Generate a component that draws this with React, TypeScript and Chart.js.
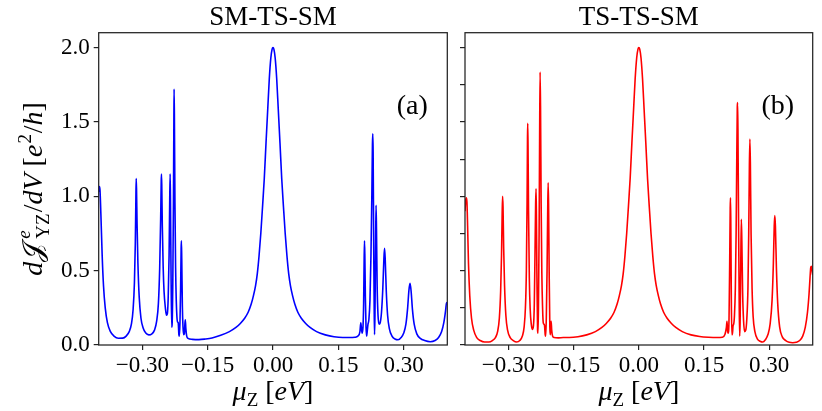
import { useEffect, useRef } from 'react';
import { Chart, registerables } from 'chart.js';

Chart.register(...registerables);

// tick positions
const xTicks = [-0.3, -0.15, 0, 0.15, 0.3];
const yTicksLeft = [0, 0.5, 1, 1.5, 2];
const yTicksRight = [0, 0.25, 0.5, 0.75, 1, 1.25, 1.5, 1.75, 2];

// (mu_Z, dJ/dV), panel (a)
const smtsmCurve: [number, number][] = [
  [-0.4, 1.03], [-0.3985, 1.065], [-0.397, 1.04], [-0.395, 0.88], [-0.392, 0.6],
  [-0.389, 0.4], [-0.385, 0.25], [-0.38, 0.15], [-0.373, 0.09], [-0.365, 0.06],
  [-0.355, 0.045], [-0.345, 0.046], [-0.337, 0.06], [-0.33, 0.09], [-0.325, 0.14],
  [-0.321, 0.24], [-0.318, 0.42], [-0.316, 0.68], [-0.3148, 0.95], [-0.314, 1.12],
  [-0.3132, 1.05], [-0.312, 0.82], [-0.31, 0.55], [-0.307, 0.32], [-0.303, 0.18],
  [-0.298, 0.115], [-0.292, 0.08], [-0.285, 0.068], [-0.278, 0.075], [-0.272, 0.1],
  [-0.267, 0.16], [-0.263, 0.28], [-0.26, 0.52], [-0.2578, 0.85], [-0.2565, 1.1],
  [-0.256, 1.15], [-0.2553, 1.08], [-0.254, 0.8], [-0.252, 0.52], [-0.25, 0.36],
  [-0.247, 0.25], [-0.2445, 0.2], [-0.2425, 0.21], [-0.2405, 0.32], [-0.2385, 0.6],
  [-0.237, 0.98], [-0.236, 1.15], [-0.2352, 0.95], [-0.234, 0.5], [-0.2325, 0.12],
  [-0.2315, 0.14], [-0.23, 0.4], [-0.2285, 0.95], [-0.2275, 1.5], [-0.227, 1.72],
  [-0.2263, 1.55], [-0.225, 0.95], [-0.2235, 0.52], [-0.222, 0.3], [-0.2205, 0.19],
  [-0.219, 0.155], [-0.2175, 0.15], [-0.216, 0.07], [-0.2148, 0.06], [-0.2135, 0.15],
  [-0.212, 0.38], [-0.2108, 0.65], [-0.2102, 0.7], [-0.2094, 0.58], [-0.208, 0.26],
  [-0.2065, 0.12], [-0.205, 0.07], [-0.2035, 0.075], [-0.2022, 0.14], [-0.2012, 0.17],
  [-0.2, 0.11], [-0.198, 0.06], [-0.195, 0.045], [-0.185, 0.038], [-0.17, 0.036],
  [-0.155, 0.04], [-0.14, 0.047], [-0.12, 0.065], [-0.1, 0.09], [-0.085, 0.118],
  [-0.075, 0.145], [-0.065, 0.18], [-0.057, 0.22], [-0.05, 0.275], [-0.045, 0.33],
  [-0.04, 0.4], [-0.036, 0.48], [-0.032, 0.6], [-0.028, 0.75], [-0.024, 0.93],
  [-0.02, 1.12], [-0.016, 1.36], [-0.012, 1.59], [-0.0085, 1.79], [-0.005, 1.93],
  [-0.002, 1.99], [0, 2.0], [0.002, 1.99], [0.005, 1.93], [0.0085, 1.79],
  [0.012, 1.59], [0.016, 1.36], [0.02, 1.12], [0.024, 0.93], [0.028, 0.75],
  [0.032, 0.6], [0.036, 0.48], [0.04, 0.4], [0.045, 0.33], [0.05, 0.275],
  [0.057, 0.22], [0.065, 0.18], [0.075, 0.145], [0.085, 0.118], [0.1, 0.09],
  [0.12, 0.068], [0.14, 0.055], [0.16, 0.05], [0.175, 0.05], [0.188, 0.052],
  [0.195, 0.06], [0.1995, 0.09], [0.2015, 0.15], [0.203, 0.11], [0.2045, 0.08],
  [0.2065, 0.12], [0.208, 0.28], [0.2092, 0.58], [0.21, 0.7], [0.2108, 0.6],
  [0.212, 0.32], [0.2135, 0.12], [0.215, 0.06], [0.2165, 0.1], [0.218, 0.14],
  [0.22, 0.17], [0.2225, 0.3], [0.2248, 0.6], [0.2268, 1.0], [0.2282, 1.35],
  [0.229, 1.42], [0.2298, 1.3], [0.231, 0.7], [0.2322, 0.25], [0.233, 0.07],
  [0.234, 0.2], [0.2355, 0.7], [0.2365, 0.94], [0.2375, 0.78], [0.239, 0.4],
  [0.241, 0.2], [0.2435, 0.14], [0.246, 0.15], [0.249, 0.22], [0.252, 0.38],
  [0.2545, 0.58], [0.256, 0.65], [0.2575, 0.58], [0.26, 0.36], [0.263, 0.2],
  [0.267, 0.11], [0.273, 0.06], [0.28, 0.04], [0.287, 0.035], [0.294, 0.05],
  [0.3, 0.08], [0.305, 0.14], [0.309, 0.25], [0.312, 0.37], [0.3145, 0.415],
  [0.317, 0.36], [0.32, 0.24], [0.324, 0.14], [0.33, 0.075], [0.338, 0.045],
  [0.348, 0.03], [0.361, 0.022], [0.372, 0.03], [0.38, 0.05], [0.387, 0.09],
  [0.392, 0.15], [0.396, 0.23], [0.398, 0.28], [0.3995, 0.285], [0.4, 0.27],
];

// panel (b)
const tstsmCurve: [number, number][] = [
  [-0.4, 0.9], [-0.3985, 0.97], [-0.397, 0.99], [-0.3955, 0.96], [-0.394, 0.8],
  [-0.392, 0.55], [-0.389, 0.33], [-0.385, 0.18], [-0.38, 0.1], [-0.373, 0.05],
  [-0.365, 0.03], [-0.355, 0.02], [-0.345, 0.02], [-0.337, 0.03], [-0.33, 0.05],
  [-0.325, 0.09], [-0.321, 0.18], [-0.318, 0.36], [-0.316, 0.6], [-0.3145, 0.88],
  [-0.3135, 1.0], [-0.3125, 0.93], [-0.311, 0.65], [-0.309, 0.4], [-0.306, 0.2],
  [-0.302, 0.1], [-0.296, 0.05], [-0.289, 0.03], [-0.281, 0.02], [-0.274, 0.03],
  [-0.268, 0.06], [-0.264, 0.12], [-0.261, 0.25], [-0.2588, 0.5], [-0.2572, 0.95],
  [-0.2562, 1.4], [-0.2557, 1.49], [-0.255, 1.35], [-0.2538, 0.9], [-0.252, 0.45],
  [-0.25, 0.24], [-0.2475, 0.14], [-0.245, 0.105], [-0.2425, 0.13], [-0.2405, 0.28],
  [-0.239, 0.6], [-0.2375, 0.95], [-0.2365, 1.05], [-0.2357, 0.88], [-0.2345, 0.45],
  [-0.233, 0.1], [-0.232, 0.08], [-0.231, 0.25], [-0.2295, 0.75], [-0.2283, 1.4],
  [-0.2272, 1.835], [-0.2262, 1.6], [-0.2248, 0.95], [-0.2232, 0.48], [-0.2215, 0.25],
  [-0.22, 0.15], [-0.2185, 0.14], [-0.217, 0.13], [-0.2155, 0.07], [-0.2142, 0.06],
  [-0.2128, 0.2], [-0.2112, 0.5], [-0.2098, 0.88], [-0.2087, 1.09], [-0.2077, 0.95],
  [-0.2062, 0.45], [-0.2048, 0.12], [-0.2038, 0.07], [-0.2028, 0.12], [-0.2018, 0.16],
  [-0.2005, 0.1], [-0.1985, 0.06], [-0.195, 0.05], [-0.185, 0.048], [-0.174, 0.05],
  [-0.16, 0.05], [-0.14, 0.055], [-0.12, 0.068], [-0.1, 0.09], [-0.085, 0.118],
  [-0.075, 0.145], [-0.065, 0.18], [-0.057, 0.22], [-0.05, 0.275], [-0.045, 0.33],
  [-0.04, 0.4], [-0.036, 0.48], [-0.032, 0.6], [-0.028, 0.75], [-0.024, 0.93],
  [-0.02, 1.12], [-0.016, 1.36], [-0.012, 1.59], [-0.0085, 1.79], [-0.005, 1.93],
  [-0.002, 1.99], [0, 2.0], [0.002, 1.99], [0.005, 1.93], [0.0085, 1.79],
  [0.012, 1.59], [0.016, 1.36], [0.02, 1.12], [0.024, 0.93], [0.028, 0.75],
  [0.032, 0.6], [0.036, 0.48], [0.04, 0.4], [0.045, 0.33], [0.05, 0.275],
  [0.057, 0.22], [0.065, 0.18], [0.075, 0.145], [0.085, 0.118], [0.1, 0.09],
  [0.12, 0.068], [0.14, 0.057], [0.16, 0.052], [0.18, 0.05], [0.192, 0.052],
  [0.198, 0.07], [0.2015, 0.12], [0.2028, 0.16], [0.204, 0.1], [0.2055, 0.08],
  [0.2075, 0.18], [0.209, 0.55], [0.2102, 0.92], [0.2108, 0.99], [0.2115, 0.85],
  [0.2128, 0.3], [0.214, 0.07], [0.2152, 0.07], [0.2168, 0.13], [0.2182, 0.14],
  [0.22, 0.2], [0.222, 0.38], [0.2238, 0.75], [0.2253, 1.25], [0.2265, 1.6],
  [0.2272, 1.63], [0.228, 1.45], [0.2295, 0.8], [0.231, 0.25], [0.232, 0.06],
  [0.233, 0.15], [0.2345, 0.55], [0.2358, 0.845], [0.237, 0.7], [0.2388, 0.35],
  [0.241, 0.16], [0.2435, 0.09], [0.246, 0.1], [0.2485, 0.18], [0.251, 0.38],
  [0.2528, 0.75], [0.2543, 1.2], [0.2555, 1.385], [0.2566, 1.22], [0.2582, 0.75],
  [0.2605, 0.38], [0.263, 0.19], [0.267, 0.09], [0.273, 0.04], [0.279, 0.025],
  [0.285, 0.02], [0.291, 0.035], [0.297, 0.07], [0.302, 0.14], [0.3065, 0.3],
  [0.3095, 0.55], [0.3115, 0.8], [0.3128, 0.87], [0.3142, 0.8], [0.3165, 0.52],
  [0.3195, 0.28], [0.324, 0.12], [0.33, 0.055], [0.338, 0.03], [0.346, 0.018],
  [0.354, 0.015], [0.362, 0.018], [0.37, 0.03], [0.377, 0.06], [0.383, 0.12],
  [0.388, 0.22], [0.3915, 0.34], [0.394, 0.46], [0.3955, 0.52], [0.397, 0.53],
  [0.3985, 0.5], [0.4, 0.47],
];

const SERIF = '"Liberation Serif", "DejaVu Serif", serif';
const INK = '#222';

// text pieces of the math labels: italic, relative size, baseline shift, gap before, no advance
type Piece = { t: string; it?: boolean; s?: number; dy?: number; gap?: number; stay?: boolean };

const xLabel: Piece[] = [
  { t: 'μ', it: true },
  { t: 'Z', s: 0.68, dy: 0.2 },
  { t: ' [' },
  { t: 'eV', it: true },
  { t: ']' },
];

const yLabel: Piece[] = [
  { t: 'd', it: true },
  { t: '𝒥' },
  { t: 'e', it: true, s: 0.68, dy: -0.42, gap: 0.14, stay: true },
  { t: 'YZ', s: 0.68, dy: 0.25, gap: 0.14 },
  { t: '/', gap: 0.04 },
  { t: 'dV', it: true },
  { t: ' [' },
  { t: 'e', it: true },
  { t: '2', s: 0.68, dy: -0.4, gap: 0.04 },
  { t: '/', gap: 0.03 },
  { t: 'h', it: true },
  { t: ']' },
];

function drawPieces(ctx: CanvasRenderingContext2D, pieces: Piece[], size: number, cx: number, y: number) {
  const fontOf = (p: Piece) => `${p.it ? 'italic ' : ''}${Math.round(size * (p.s ?? 1))}px ${SERIF}`;
  let total = 0;
  let pendingGap = 0;
  for (const p of pieces) {
    ctx.font = fontOf(p);
    if (p.stay) continue;
    total += (p.gap ?? 0) * size + ctx.measureText(p.t).width;
  }
  let x = cx - total / 2;
  ctx.textAlign = 'left';
  for (const p of pieces) {
    ctx.font = fontOf(p);
    const g = (p.gap ?? 0) * size;
    ctx.fillText(p.t, x + g, y + (p.dy ?? 0) * size);
    if (!p.stay) x += g + ctx.measureText(p.t).width;
  }
  return pendingGap;
}

const decor = {
  id: 'decor',
  afterDraw(chart: any, _args: any, opts: any) {
    const { ctx, chartArea: a } = chart;
    ctx.save();
    ctx.strokeStyle = INK;
    ctx.lineWidth = 1.25;
    ctx.strokeRect(a.left, a.top, a.right - a.left, a.bottom - a.top);
    ctx.fillStyle = '#000';
    ctx.textBaseline = 'alphabetic';
    ctx.textAlign = 'center';
    ctx.font = `27px ${SERIF}`;
    ctx.fillText(opts.title, (a.left + a.right) / 2, 25);
    ctx.font = `28px ${SERIF}`;
    ctx.fillText(opts.tag, a.right - 35, a.top + 81);
    drawPieces(ctx, xLabel, 28, (a.left + a.right) / 2, 400);
    if (opts.showYLabel) {
      ctx.translate(42, (a.top + a.bottom) / 2);
      ctx.rotate(-Math.PI / 2);
      drawPieces(ctx, yLabel, 28, 0, 0);
    }
    ctx.restore();
  },
};

const fmtX = (v: number) => (v < 0 ? '\u2212' : '') + Math.abs(v).toFixed(2);

type PanelProps = {
  curve: [number, number][];
  color: string;
  yTicks: number[];
  yLabels: boolean;
  title: string;
  tag: string;
  left: number;
  width: number;
  yWidth: number;
  padRight: number;
};

function Panel({ curve, color, yTicks, yLabels, title, tag, left, width, yWidth, padRight }: PanelProps) {
  const canvasRef = useRef<HTMLCanvasElement | null>(null);

  useEffect(() => {
    if (!canvasRef.current) return;
    const chart = new Chart(canvasRef.current, {
      type: 'line',
      data: {
        datasets: [
          {
            data: curve.map(([x, y]) => ({ x, y })),
            borderColor: color,
            borderWidth: 1.6,
            pointRadius: 0,
            cubicInterpolationMode: 'monotone',
            fill: false,
          },
        ],
      },
      options: {
        responsive: true,
        maintainAspectRatio: false,
        animation: false,
        layout: { padding: { top: 32.7, right: padRight, bottom: 0, left: 0 } },
        plugins: {
          legend: { display: false },
          tooltip: { enabled: false },
          decor: { title, tag, showYLabel: yLabels },
        } as any,
        scales: {
          x: {
            type: 'linear',
            min: -0.4,
            max: 0.4,
            afterBuildTicks: (s: any) => {
              s.ticks = xTicks.map((value) => ({ value }));
            },
            afterFit: (s: any) => {
              s.height = 66;
            },
            ticks: {
              autoSkip: false,
              maxRotation: 0,
              padding: 2,
              color: '#000',
              font: { family: SERIF, size: 23 },
              callback: (v: any) => fmtX(Number(v)),
            },
            grid: { drawOnChartArea: false, tickLength: 5, color: INK, lineWidth: 1.2 },
            border: { display: false },
          },
          y: {
            type: 'linear',
            min: 0,
            max: 2.1,
            afterBuildTicks: (s: any) => {
              s.ticks = yTicks.map((value) => ({ value }));
            },
            afterFit: (s: any) => {
              s.width = yWidth;
            },
            ticks: {
              display: yLabels,
              padding: 4,
              color: '#000',
              font: { family: SERIF, size: 23 },
              callback: (v: any) => Number(v).toFixed(1),
            },
            grid: { drawOnChartArea: false, tickLength: 5, color: INK, lineWidth: 1.2 },
            border: { display: false },
          },
        },
      },
      plugins: [decor],
    });
    return () => chart.destroy();
  }, []);

  return (
    <div style={{ position: 'absolute', left, top: 0, width, height: 411 }}>
      <canvas ref={canvasRef} />
    </div>
  );
}

export default function App() {
  return (
    <div style={{ position: 'absolute', left: 0, top: 0, width: 822, height: 411, background: '#fff' }}>
      <Panel
        curve={smtsmCurve}
        color="#0000ff"
        yTicks={yTicksLeft}
        yLabels={true}
        title="SM-TS-SM"
        tag="(a)"
        left={0}
        width={455}
        yWidth={98.7}
        padRight={7.7}
      />
      <Panel
        curve={tstsmCurve}
        color="#ff0000"
        yTicks={yTicksRight}
        yLabels={false}
        title="TS-TS-SM"
        tag="(b)"
        left={455}
        width={367}
        yWidth={10}
        padRight={9.3}
      />
    </div>
  );
}
